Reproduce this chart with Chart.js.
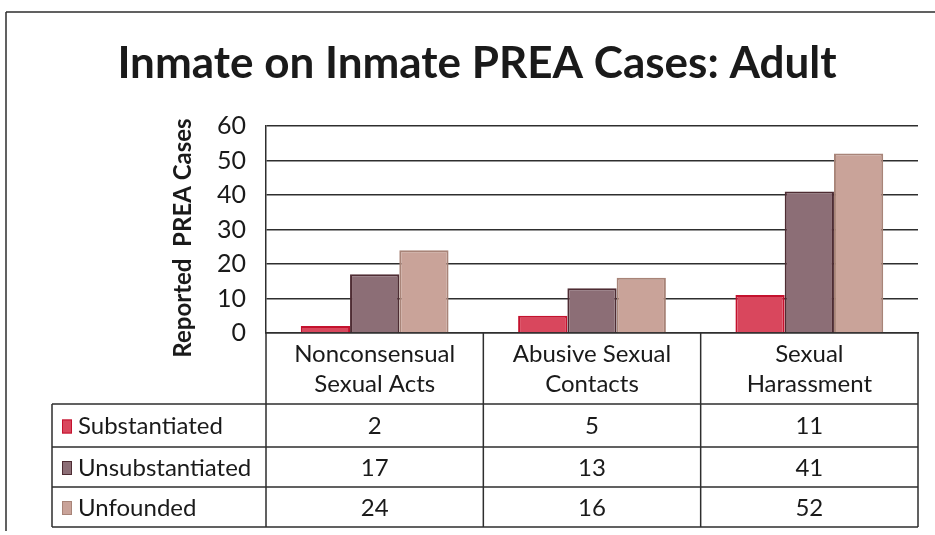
<!DOCTYPE html>
<html>
<head>
<meta charset="utf-8">
<style>
  html, body { margin: 0; padding: 0; background: #ffffff; }
  canvas { display: block; }
</style>
<script src="https://cdn.jsdelivr.net/npm/chart.js@4"></script>
</head>
<body>
<canvas id="c" width="935" height="535"></canvas>
<script>
// ---- data ----
const titleText = 'Inmate on Inmate PREA Cases: Adult';
const yAxisTitle = 'Reported  PREA Cases';
const categories = [
  ['Nonconsensual', 'Sexual Acts'],
  ['Abusive Sexual', 'Contacts'],
  ['Sexual', 'Harassment']
];
const seriesNames = ['Substantiated', 'Unsubstantiated', 'Unfounded'];
const substantiated = [2, 5, 11];
const unsubstantiated = [17, 13, 41];
const unfounded = [24, 16, 52];
const yTicks = [0, 10, 20, 30, 40, 50, 60];

const FONT = 'Lato, "Open Sans", sans-serif';
const fills = ['#d9475d', '#8c6e76', '#c9a399'];
const borders = ['#c4122e', '#4e2c33', '#a88478'];
const lineColor = '#2e2e2e';
const textColor = '#1a1a1a';

// table row boundaries (layout)
const rowLines = [404, 447, 487, 527];
const legendLeft = 52;

const titlePlugin = {
  id: 'topTitle',
  afterDraw(chart) {
    const ctx = chart.ctx;
    ctx.save();
    ctx.fillStyle = textColor;
    ctx.textAlign = 'center';
    ctx.textBaseline = 'middle';
    ctx.font = 'bold 44px ' + FONT;
    ctx.fillText(titleText, 477, 64);
    // y-axis title
    ctx.translate(183, 238);
    ctx.rotate(-Math.PI / 2);
    ctx.font = 'bold 24px ' + FONT;
    ctx.fillText(yAxisTitle, 0, 0);
    ctx.restore();
  }
};

const tablePlugin = {
  id: 'dataTable',
  afterDraw(chart) {
    const ctx = chart.ctx;
    const xs = chart.scales.x;
    const ca = chart.chartArea;
    const n = categories.length;
    const edges = [ca.left];
    for (let i = 0; i < n - 1; i++) {
      edges.push((xs.getPixelForValue(i) + xs.getPixelForValue(i + 1)) / 2);
    }
    edges.push(ca.right);
    const bottom = rowLines[rowLines.length - 1];

    ctx.save();
    ctx.strokeStyle = lineColor;
    ctx.lineWidth = 1.5;
    ctx.beginPath();
    edges.forEach(x => { ctx.moveTo(x, ca.bottom); ctx.lineTo(x, bottom); });
    ctx.moveTo(legendLeft, rowLines[0]); ctx.lineTo(legendLeft, bottom);
    rowLines.forEach(y => { ctx.moveTo(legendLeft, y); ctx.lineTo(ca.right, y); });
    ctx.moveTo(6, 12); ctx.lineTo(935, 12);
    ctx.moveTo(6, 12); ctx.lineTo(6, 531);
    ctx.stroke();

    ctx.font = '24px ' + FONT;
    ctx.textBaseline = 'middle';
    chart.data.datasets.forEach((ds, r) => {
      const yc = (rowLines[r] + rowLines[r + 1]) / 2 + 1;
      ctx.fillStyle = ds.backgroundColor;
      ctx.fillRect(62, yc - 7, 10, 14);
      ctx.strokeStyle = ds.borderColor;
      ctx.lineWidth = 1;
      ctx.strokeRect(62.5, yc - 6.5, 9, 13);
      ctx.fillStyle = textColor;
      ctx.textAlign = 'left';
      ctx.fillText(ds.label, 78, yc);
      ctx.textAlign = 'center';
      ds.data.forEach((v, i) => {
        ctx.fillText(String(v), xs.getPixelForValue(i), yc);
      });
    });
    ctx.restore();
  }
};

new Chart(document.getElementById('c'), {
  type: 'bar',
  data: {
    labels: categories,
    datasets: [
      { label: seriesNames[0], data: substantiated, backgroundColor: fills[0], borderColor: borders[0], borderWidth: 2 },
      { label: seriesNames[1], data: unsubstantiated, backgroundColor: fills[1], borderColor: borders[1], borderWidth: 2 },
      { label: seriesNames[2], data: unfounded, backgroundColor: fills[2], borderColor: borders[2], borderWidth: 2 }
    ]
  },
  options: {
    responsive: false,
    animation: false,
    devicePixelRatio: 1,
    layout: { padding: { left: 154, right: 17, top: 126, bottom: 0 } },
    datasets: { bar: { categoryPercentage: 0.68, barPercentage: 1.0 } },
    plugins: {
      legend: { display: false },
      tooltip: { enabled: false },
      title: { display: false }
    },
    scales: {
      x: {
        grid: { display: false, drawTicks: false },
        border: { display: true, color: lineColor, width: 1.5 },
        ticks: {
          color: textColor,
          font: { family: FONT, size: 24, lineHeight: 1.22 },
          padding: 7,
          maxRotation: 0,
          minRotation: 0,
          autoSkip: false
        },
        afterFit(scale) { scale.height = 535 - 333; }
      },
      y: {
        min: 0,
        max: 60,
        afterBuildTicks(scale) { scale.ticks = yTicks.map(v => ({ value: v })); },
        grid: { color: lineColor, lineWidth: 1.5, drawTicks: false },
        border: { display: true, color: lineColor, width: 1.5 },
        ticks: {
          color: textColor,
          font: { family: FONT, size: 25 },
          padding: 20
        },
        title: { display: false },
        afterFit(scale) { scale.width = 266 - 154; }
      }
    }
  },
  plugins: [tablePlugin, titlePlugin]
});
</script>
</body>
</html>
